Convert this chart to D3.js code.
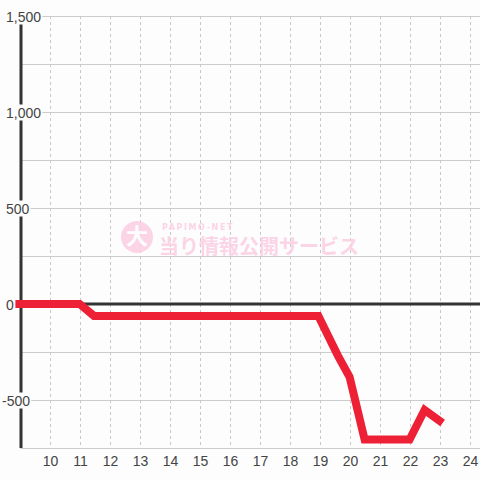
<!DOCTYPE html>
<html lang="ja">
<head>
<meta charset="UTF-8">
<title>差枚グラフ</title>
<script src="https://d3js.org/d3.v7.min.js"></script>
<style>
  body { margin: 0; background: #fdfdfd; }
  svg { display: block; }
  .tick-label { font-family: "Liberation Sans", Arial, sans-serif; font-size: 14px; fill: #444; }
</style>
</head>
<body>
<div id="chart"></div>
<script>
// data: hour of day vs cumulative difference
const hours  = [8.83, 10.97, 11.45, 18.93, 19.57, 19.97, 20.47, 21.97, 22.47, 23.07];
const values = [0, 0, -62, -62, -266, -380, -706, -706, -552, -620];

const xTicks = [10, 11, 12, 13, 14, 15, 16, 17, 18, 19, 20, 21, 22, 23, 24];
const yLabels = [-500, 0, 500, 1000, 1500];
const yGrid = [-750, -500, -250, 0, 250, 500, 750, 1000, 1250, 1500];

const W = 480, H = 480;

const svg = d3.select("#chart")
  .append("svg")
  .attr("width", W)
  .attr("height", H);

svg.append("rect")
  .attr("width", W).attr("height", H)
  .attr("fill", "#fdfdfd");

const x = d3.scaleLinear().domain([9, 24.3]).range([20.5, 479.5]);
const y = d3.scaleLinear().domain([-750, 1500]).range([448, 16]);

// horizontal grid
svg.append("g")
  .selectAll("line")
  .data(yGrid)
  .join("line")
  .attr("x1", x(9)).attr("x2", W)
  .attr("y1", d => Math.round(y(d)) + 0.5)
  .attr("y2", d => Math.round(y(d)) + 0.5)
  .attr("stroke", "#cccccc")
  .attr("stroke-width", 1);

// vertical dashed grid
svg.append("g")
  .selectAll("line")
  .data(xTicks)
  .join("line")
  .attr("x1", d => x(d)).attr("x2", d => x(d))
  .attr("y1", y(1500)).attr("y2", y(-750))
  .attr("stroke", "#c8c8c8")
  .attr("stroke-width", 1)
  .attr("stroke-dasharray", "3,3");

// watermark
const wm = svg.append("g").attr("opacity", 0.85);
wm.append("circle")
  .attr("cx", 137).attr("cy", 237).attr("r", 16)
  .attr("fill", "#fbcfe3");
wm.append("text")
  .attr("x", 137).attr("y", 244)
  .attr("text-anchor", "middle")
  .style("font-family", "'Noto Sans CJK JP', sans-serif")
  .style("font-weight", "bold")
  .style("font-size", "22px")
  .attr("fill", "#fdfdfd")
  .text("大");
wm.append("text")
  .attr("x", 162).attr("y", 230)
  .style("font-family", "'DejaVu Sans', sans-serif")
  .style("font-weight", "bold")
  .style("font-size", "8px")
  .style("letter-spacing", "1.6px")
  .attr("fill", "#fbcfe3")
  .text("PAPIMO-NET");
wm.append("text")
  .attr("x", 159).attr("y", 254)
  .style("font-family", "'Noto Sans CJK JP', sans-serif")
  .style("font-weight", "bold")
  .style("font-size", "20px")
  .attr("fill", "#fbcfe3")
  .text("当り情報公開サービス");

// zero line
svg.append("line")
  .attr("x1", x(9)).attr("x2", W)
  .attr("y1", y(0)).attr("y2", y(0))
  .attr("stroke", "#333")
  .attr("stroke-width", 3);

// y axis line
svg.append("line")
  .attr("x1", 21).attr("x2", 21)
  .attr("y1", y(1500)).attr("y2", y(-750))
  .attr("stroke", "#333")
  .attr("stroke-width", 3);

// y labels with background box
const fmt = d3.format(",");
const yl = svg.append("g")
  .selectAll("g")
  .data(yLabels)
  .join("g");
yl.append("rect").attr("fill", "#fdfdfd");
yl.append("text")
  .attr("class", "tick-label")
  .attr("x", d => d < 0 ? 2 : 6)
  .attr("y", d => y(d) + 5.5)
  .text(d => fmt(d).replace("−", "-"));
yl.each(function () {
  const g = d3.select(this);
  const b = g.select("text").node().getBBox();
  g.select("rect")
    .attr("x", b.x - 1).attr("y", b.y)
    .attr("width", b.width + 2).attr("height", b.height);
});

// x labels
svg.append("g")
  .selectAll("text")
  .data(xTicks)
  .join("text")
  .attr("class", "tick-label")
  .attr("x", d => x(d))
  .attr("y", 466)
  .attr("text-anchor", "middle")
  .text(d => d);

// the series
const line = d3.line()
  .x((d, i) => x(hours[i]))
  .y(d => y(d));

svg.append("path")
  .datum(values)
  .attr("d", line)
  .attr("fill", "none")
  .attr("stroke", "#ee2036")
  .attr("stroke-width", 8)
  .attr("stroke-linejoin", "miter")
  .attr("stroke-linecap", "butt");
</script>
</body>
</html>
